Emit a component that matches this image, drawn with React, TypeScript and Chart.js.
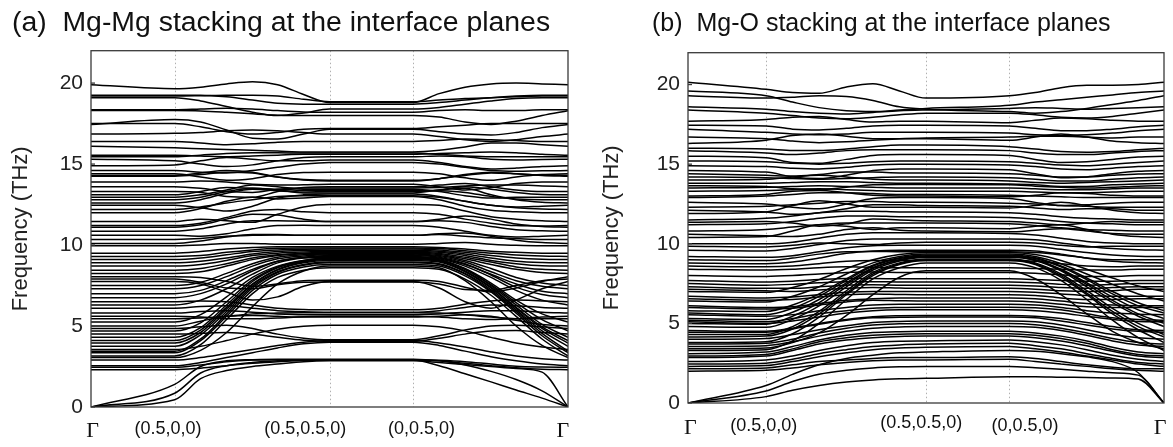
import React, { useEffect, useRef } from "react";
import { Chart, registerables } from "chart.js";

Chart.register(...registerables);

// ---------- k-path (x values, path length units) ----------
const kPathA = [0, 1.0, 1.31, 1.62, 1.93, 2.23, 2.54, 2.85, 3.85, 4.16, 4.47, 4.78, 5.08, 5.39, 5.7];
const kPathB = [0, 1.0, 1.34, 1.68, 2.03, 2.37, 2.71, 3.05, 4.12, 4.45, 4.78, 5.11, 5.44, 5.77, 6.1];
const kHighSymA = [0, 1.0, 2.85, 3.85, 5.7];
const kHighSymB = [0, 1.0, 3.05, 4.12, 6.1];
const kLabels = ["Γ", "(0.5,0,0)", "(0.5,0.5,0)", "(0,0.5,0)", "Γ"];
const kLabelPosA = [0.02, 0.92, 2.56, 3.95, 5.64];
const kLabelPosB = [0.03, 0.97, 2.99, 4.32, 6.05];
const yTickValues = [0, 5, 10, 15, 20];

// ---------- panel (a): Mg-Mg stacking, frequencies (THz) at kPathA ----------
const acousticA = [
  [0, 0.45, 1.75, 2.25, 2.5, 2.65, 2.8, 2.85, 2.85, 2.75, 2.62, 2.5, 2.38, 2.15, 0],
  [0, 0.85, 2.1, 2.55, 2.75, 2.85, 2.9, 2.9, 2.9, 2.55, 2.05, 1.55, 1.05, 0.55, 0],
  [0, 1.4, 2.5, 2.85, 2.92, 2.95, 2.95, 2.95, 2.95, 2.85, 2.6, 2.2, 1.7, 1.0, 0],
];
const lowA = [
  [2.3, 2.3, 2.4, 2.55, 2.7, 2.8, 2.87, 2.9, 2.9, 2.85, 2.7, 2.55, 2.42, 2.33, 2.3],
  [2.45, 2.45, 2.6, 2.8, 2.9, 2.92, 2.92, 2.92, 2.92, 2.88, 2.8, 2.65, 2.52, 2.47, 2.45],
  [2.55, 2.55, 2.75, 3.05, 3.35, 3.65, 3.9, 4.0, 4.0, 3.8, 3.45, 3.1, 2.85, 2.65, 2.55],
  [2.9, 2.9, 3.05, 3.3, 3.55, 3.8, 4.0, 4.1, 4.1, 3.95, 3.7, 3.4, 3.15, 2.98, 2.9],
  [4.5, 4.5, 4.55, 4.6, 4.5, 4.3, 4.12, 4.05, 4.05, 4.25, 4.5, 4.7, 4.72, 4.6, 4.5],
  [4.85, 4.85, 4.95, 5.05, 4.85, 4.5, 4.25, 4.15, 4.15, 4.4, 4.75, 5.0, 5.05, 4.95, 4.85],
  [3.55, 3.55, 3.75, 4.1, 4.5, 4.8, 4.98, 5.05, 5.05, 4.95, 4.7, 4.3, 3.95, 3.7, 3.55],
  [5.0, 5.0, 5.3, 5.6, 5.65, 5.6, 5.55, 5.55, 5.55, 5.6, 5.7, 5.6, 5.35, 5.1, 5.0],
  [5.45, 5.45, 5.5, 5.6, 5.75, 5.8, 5.82, 5.82, 5.82, 5.8, 5.7, 5.55, 5.45, 5.45, 5.45],
  [5.6, 5.6, 5.55, 5.45, 5.45, 5.5, 5.57, 5.6, 5.6, 5.55, 5.45, 5.4, 5.45, 5.55, 5.6],
  [5.8, 5.8, 5.9, 5.95, 5.85, 5.75, 5.7, 5.7, 5.7, 5.75, 5.85, 5.95, 5.95, 5.85, 5.8],
  [6.1, 6.1, 6.2, 6.25, 6.1, 5.95, 5.88, 5.85, 5.85, 5.95, 6.15, 6.3, 6.25, 6.15, 6.1],
  [6.5, 6.5, 6.55, 6.5, 6.3, 6.1, 6.02, 6.0, 6.0, 6.1, 6.35, 6.55, 6.6, 6.55, 6.5],
  [7.75, 7.75, 7.6, 7.1, 6.6, 6.8, 7.45, 7.75, 7.75, 7.35, 6.5, 6.1, 6.6, 7.3, 7.75],
  [7.9, 7.9, 7.7, 7.35, 7.3, 7.55, 7.7, 7.72, 7.72, 7.6, 7.25, 7.2, 7.5, 7.8, 7.9],
  [8.05, 8.05, 8.0, 7.75, 7.45, 7.6, 7.8, 7.82, 7.82, 7.75, 7.4, 7.1, 7.35, 7.75, 8.05],
];
const bundleA = [
  [3.05, 3.05, 3.5, 4.6, 6.2, 7.6, 8.4, 8.7, 8.7, 8.6, 7.8, 6.5, 5.0, 3.8, 3.05],
  [3.15, 3.15, 3.85, 5.4, 7.0, 8.0, 8.45, 8.6, 8.6, 8.5, 7.9, 6.9, 5.6, 4.2, 3.15],
  [3.35, 3.35, 4.1, 5.6, 7.2, 8.2, 8.65, 8.8, 8.8, 8.7, 8.1, 7.1, 5.8, 4.4, 3.35],
  [3.45, 3.45, 4.2, 5.75, 7.35, 8.3, 8.75, 8.9, 8.9, 8.8, 8.2, 7.15, 5.9, 4.55, 3.45],
  [3.75, 3.75, 4.45, 5.9, 7.45, 8.35, 8.8, 8.95, 8.95, 8.85, 8.25, 7.25, 6.0, 4.7, 3.75],
  [3.95, 3.95, 4.6, 6.05, 7.55, 8.45, 8.9, 9.05, 9.05, 8.95, 8.35, 7.35, 6.1, 4.85, 3.95],
  [4.1, 4.1, 4.75, 6.15, 7.6, 8.5, 8.95, 9.1, 9.1, 9.0, 8.4, 7.4, 6.15, 4.95, 4.1],
  [4.3, 4.3, 4.9, 6.3, 7.75, 8.6, 9.0, 9.15, 9.15, 9.05, 8.5, 7.5, 6.3, 5.1, 4.3],
  [4.7, 4.7, 5.2, 6.5, 7.85, 8.65, 9.05, 9.18, 9.18, 9.08, 8.5, 7.55, 6.45, 5.4, 4.7],
  [5.25, 5.25, 5.7, 6.8, 8.0, 8.7, 9.05, 9.2, 9.2, 9.1, 8.55, 7.65, 6.6, 5.75, 5.25],
  [6.3, 6.3, 6.6, 7.3, 8.2, 8.9, 9.2, 9.25, 9.25, 9.15, 8.7, 8.0, 7.2, 6.6, 6.3],
  [6.75, 6.75, 7.0, 7.6, 8.4, 9.0, 9.25, 9.35, 9.35, 9.25, 8.85, 8.15, 7.4, 6.95, 6.75],
  [7.0, 7.0, 7.2, 7.8, 8.5, 9.0, 9.22, 9.3, 9.3, 9.2, 8.8, 8.2, 7.6, 7.15, 7.0],
  [7.3, 7.3, 7.5, 8.05, 8.7, 9.15, 9.33, 9.4, 9.4, 9.3, 8.95, 8.35, 7.8, 7.45, 7.3],
  [7.5, 7.5, 7.7, 8.25, 8.85, 9.25, 9.4, 9.45, 9.45, 9.35, 9.05, 8.55, 8.0, 7.65, 7.5],
  [8.25, 8.25, 8.35, 8.7, 9.1, 9.35, 9.46, 9.5, 9.5, 9.42, 9.15, 8.8, 8.5, 8.3, 8.25],
  [8.45, 8.45, 8.55, 8.85, 9.2, 9.4, 9.5, 9.55, 9.55, 9.48, 9.25, 8.95, 8.65, 8.5, 8.45],
  [8.7, 8.7, 8.8, 9.05, 9.35, 9.5, 9.57, 9.6, 9.6, 9.55, 9.35, 9.05, 8.85, 8.72, 8.7],
  [8.9, 8.9, 9.0, 9.2, 9.45, 9.6, 9.66, 9.68, 9.68, 9.62, 9.45, 9.2, 9.0, 8.92, 8.9],
  [9.1, 9.1, 9.2, 9.4, 9.6, 9.7, 9.74, 9.75, 9.75, 9.7, 9.55, 9.35, 9.2, 9.12, 9.1],
  [9.3, 9.3, 9.35, 9.55, 9.7, 9.8, 9.82, 9.82, 9.82, 9.78, 9.65, 9.5, 9.38, 9.32, 9.3],
  [9.5, 9.5, 9.6, 9.75, 9.85, 9.9, 9.9, 9.9, 9.9, 9.85, 9.75, 9.62, 9.55, 9.5, 9.5],
  [9.95, 9.95, 10.0, 10.1, 10.1, 10.05, 10.05, 10.05, 10.05, 10.1, 10.15, 10.05, 9.98, 9.95, 9.95],
];
const midA = [
  [10.1, 10.1, 10.25, 10.5, 10.65, 10.65, 10.6, 10.6, 10.6, 10.7, 10.75, 10.55, 10.3, 10.15, 10.1],
  [10.35, 10.35, 10.4, 10.55, 10.6, 10.62, 10.6, 10.6, 10.6, 10.65, 10.55, 10.45, 10.4, 10.35, 10.35],
  [10.6, 10.6, 10.55, 10.7, 11.0, 11.2, 11.22, 11.2, 11.2, 11.1, 10.85, 10.6, 10.5, 10.55, 10.6],
  [10.85, 10.85, 11.0, 11.3, 11.5, 11.5, 11.47, 11.45, 11.45, 11.5, 11.4, 11.15, 10.95, 10.88, 10.85],
  [11.1, 11.1, 11.25, 11.6, 11.9, 11.85, 11.6, 11.45, 11.45, 11.6, 11.8, 11.6, 11.3, 11.15, 11.1],
  [11.2, 11.2, 11.35, 11.7, 12.1, 12.2, 12.05, 12.0, 12.0, 11.9, 11.6, 11.35, 11.2, 11.18, 11.2],
  [11.45, 11.45, 11.6, 11.5, 11.4, 11.9, 12.35, 12.5, 12.5, 12.45, 12.1, 11.75, 11.6, 11.5, 11.45],
  [12.0, 12.0, 12.25, 12.7, 12.95, 12.85, 12.9, 13.0, 13.0, 12.8, 12.4, 12.15, 12.05, 12.0, 12.0],
  [12.2, 12.2, 12.35, 12.6, 12.8, 13.0, 13.05, 13.05, 13.05, 12.95, 12.7, 12.45, 12.3, 12.22, 12.2],
  [12.45, 12.45, 12.3, 12.1, 12.4, 12.9, 13.1, 13.15, 13.15, 13.0, 12.7, 12.45, 12.35, 12.4, 12.45],
  [12.6, 12.6, 12.8, 13.2, 13.45, 13.35, 13.28, 13.3, 13.3, 13.4, 13.5, 13.1, 12.8, 12.65, 12.6],
  [12.8, 12.8, 12.95, 13.3, 13.5, 13.45, 13.38, 13.38, 13.38, 13.35, 13.25, 13.0, 12.85, 12.8, 12.8],
  [12.95, 12.95, 13.1, 13.4, 13.7, 13.6, 13.45, 13.45, 13.45, 13.3, 13.05, 12.9, 12.95, 12.95, 12.95],
  [13.1, 13.1, 13.3, 13.55, 13.5, 13.4, 13.22, 13.22, 13.22, 13.4, 13.6, 13.45, 13.25, 13.12, 13.1],
  [13.3, 13.3, 13.25, 13.0, 12.95, 13.3, 13.55, 13.6, 13.6, 13.7, 13.8, 13.6, 13.4, 13.3, 13.3],
  [13.6, 13.6, 13.5, 13.3, 13.25, 13.45, 13.52, 13.52, 13.52, 13.55, 13.65, 13.7, 13.7, 13.65, 13.6],
  [13.9, 13.9, 13.95, 13.9, 13.75, 13.7, 13.72, 13.75, 13.75, 13.6, 13.4, 13.55, 13.8, 13.9, 13.9],
  [14.25, 14.25, 14.35, 14.5, 14.45, 14.2, 14.05, 14.0, 14.0, 14.1, 14.35, 14.5, 14.4, 14.3, 14.25],
  [14.3, 14.3, 14.45, 14.6, 14.5, 14.2, 14.02, 13.95, 13.95, 14.1, 14.3, 14.45, 14.4, 14.32, 14.3],
  [14.4, 14.4, 14.2, 14.0, 14.1, 14.35, 14.48, 14.5, 14.5, 14.4, 14.15, 14.0, 14.2, 14.35, 14.4],
  [14.6, 14.6, 14.5, 14.45, 14.6, 14.8, 15.0, 15.1, 15.1, 15.0, 14.8, 14.6, 14.55, 14.58, 14.6],
  [14.9, 14.95, 15.2, 15.4, 15.3, 15.2, 15.2, 15.25, 15.25, 15.1, 14.85, 14.7, 14.75, 14.85, 14.9],
];
const highA = [
  [15.3, 15.2, 15.0, 14.85, 14.95, 15.2, 15.4, 15.45, 15.45, 15.5, 15.45, 15.3, 15.25, 15.28, 15.3],
  [15.45, 15.45, 15.55, 15.65, 15.7, 15.7, 15.68, 15.68, 15.68, 15.6, 15.5, 15.45, 15.45, 15.45, 15.45],
  [15.55, 15.55, 15.5, 15.45, 15.5, 15.55, 15.6, 15.6, 15.6, 15.65, 15.7, 15.75, 15.7, 15.6, 15.55],
  [16.1, 16.0, 15.95, 15.9, 15.85, 15.8, 15.75, 15.75, 15.75, 15.85, 16.05, 16.3, 16.3, 16.2, 16.1],
  [16.4, 16.4, 16.3, 16.2, 16.25, 16.35, 16.4, 16.4, 16.4, 16.45, 16.55, 16.5, 16.45, 16.4, 16.4],
  [16.85, 16.9, 16.95, 17.05, 17.1, 17.05, 16.95, 16.85, 16.85, 16.7, 16.5, 16.4, 16.5, 16.7, 16.85],
  [17.45, 17.75, 17.6, 17.1, 16.6, 16.55, 16.85, 17.15, 17.15, 17.0, 16.85, 16.8, 16.95, 17.25, 17.45],
  [17.5, 17.5, 17.3, 17.0, 16.85, 16.95, 17.15, 17.2, 17.2, 17.3, 17.4, 17.5, 17.5, 17.5, 17.5],
  [18.3, 18.3, 18.28, 18.2, 18.1, 18.02, 18.0, 18.0, 18.0, 17.9, 17.6, 17.45, 17.65, 18.0, 18.3],
  [18.35, 18.35, 18.4, 18.45, 18.4, 18.3, 18.22, 18.2, 18.2, 18.3, 18.35, 18.3, 18.3, 18.35, 18.35],
  [19.1, 19.1, 18.9, 18.55, 18.2, 18.0, 18.15, 18.4, 18.4, 18.5, 18.7, 18.9, 19.05, 19.1, 19.1],
  [19.2, 19.2, 19.22, 19.25, 19.25, 19.2, 19.0, 18.85, 18.85, 18.95, 19.05, 19.1, 19.15, 19.2, 19.2],
  [19.25, 19.25, 19.25, 19.15, 18.95, 18.75, 18.7, 18.7, 18.7, 18.8, 18.95, 19.1, 19.2, 19.25, 19.25],
  [19.9, 19.65, 19.75, 19.95, 20.08, 19.9, 19.3, 18.8, 18.8, 19.35, 19.75, 19.95, 20.0, 19.95, 19.9],
];

// ---------- panel (b): Mg-O stacking, frequencies (THz) at kPathB ----------
const acousticB = [
  [0, 0.4, 0.8, 1.1, 1.32, 1.45, 1.52, 1.55, 1.65, 1.65, 1.62, 1.6, 1.57, 1.5, 0],
  [0, 0.75, 1.35, 1.8, 2.05, 2.2, 2.27, 2.3, 2.3, 2.22, 2.12, 2.0, 1.9, 1.75, 0],
  [0, 1.1, 1.8, 2.4, 2.8, 3.0, 3.15, 3.2, 3.3, 3.25, 3.1, 2.9, 2.6, 1.9, 0],
];
const lowB = [
  [2.0, 2.05, 2.2, 2.4, 2.55, 2.65, 2.7, 2.7, 2.75, 2.6, 2.45, 2.3, 2.15, 2.05, 2.0],
  [2.15, 2.2, 2.4, 2.6, 2.7, 2.8, 2.85, 2.85, 2.9, 2.8, 2.6, 2.4, 2.25, 2.15, 2.15],
  [2.3, 2.35, 2.6, 2.9, 3.15, 3.35, 3.45, 3.5, 3.55, 3.4, 3.2, 2.95, 2.7, 2.45, 2.3],
  [2.45, 2.5, 2.75, 3.1, 3.35, 3.55, 3.65, 3.7, 3.75, 3.6, 3.4, 3.1, 2.8, 2.55, 2.45],
  [2.6, 2.7, 2.95, 3.3, 3.6, 3.8, 3.88, 3.9, 3.95, 3.85, 3.65, 3.35, 3.0, 2.75, 2.6],
  [2.85, 2.95, 3.3, 3.7, 3.95, 4.1, 4.18, 4.2, 4.2, 4.1, 3.9, 3.6, 3.25, 2.95, 2.85],
  [2.95, 3.05, 3.4, 3.85, 4.1, 4.25, 4.32, 4.35, 4.35, 4.25, 4.05, 3.75, 3.35, 3.05, 2.95],
  [3.1, 3.2, 3.55, 3.95, 4.25, 4.42, 4.48, 4.5, 4.5, 4.4, 4.2, 3.9, 3.5, 3.2, 3.1],
  [3.55, 3.6, 3.85, 4.2, 4.5, 4.7, 4.78, 4.8, 4.8, 4.75, 4.55, 4.25, 3.9, 3.65, 3.55],
  [3.7, 3.75, 4.0, 4.4, 4.7, 4.9, 4.97, 5.0, 5.0, 4.92, 4.7, 4.4, 4.05, 3.8, 3.7],
  [4.0, 4.05, 4.3, 4.6, 4.85, 5.05, 5.12, 5.15, 5.15, 5.1, 4.9, 4.6, 4.3, 4.1, 4.0],
  [4.45, 4.45, 4.65, 4.95, 5.2, 5.35, 5.38, 5.4, 5.4, 5.35, 5.15, 4.9, 4.65, 4.5, 4.45],
  [4.55, 4.5, 4.7, 5.0, 5.25, 5.42, 5.48, 5.5, 5.5, 5.45, 5.3, 5.05, 4.8, 4.6, 4.55],
  [5.1, 5.0, 5.15, 5.4, 5.65, 5.8, 5.85, 5.85, 5.85, 5.8, 5.65, 5.45, 5.25, 5.12, 5.1],
  [5.2, 5.1, 5.3, 5.6, 5.8, 5.95, 6.0, 6.02, 6.02, 5.98, 5.85, 5.6, 5.35, 5.25, 5.2],
  [5.55, 5.45, 5.55, 5.8, 6.0, 6.15, 6.2, 6.2, 6.2, 6.15, 6.0, 5.8, 5.65, 5.58, 5.55],
  [6.0, 5.9, 5.95, 6.15, 6.35, 6.45, 6.42, 6.4, 6.4, 6.35, 6.2, 6.05, 6.0, 6.0, 6.0],
  [6.1, 6.0, 6.05, 6.25, 6.45, 6.55, 6.6, 6.6, 6.6, 6.55, 6.4, 6.25, 6.15, 6.1, 6.1],
  [6.55, 6.45, 6.5, 6.65, 6.8, 6.85, 6.82, 6.8, 6.8, 6.75, 6.6, 6.5, 6.5, 6.55, 6.55],
  [6.7, 6.6, 6.65, 6.8, 6.95, 7.0, 7.0, 7.0, 7.0, 6.95, 6.85, 6.75, 6.7, 6.7, 6.7],
  [7.15, 7.05, 7.0, 7.1, 7.2, 7.25, 7.22, 7.2, 7.2, 7.15, 7.05, 7.0, 7.05, 7.15, 7.15],
  [7.3, 7.2, 7.2, 7.3, 7.4, 7.42, 7.4, 7.4, 7.4, 7.35, 7.25, 7.2, 7.25, 7.3, 7.3],
  [7.5, 7.4, 7.45, 7.55, 7.62, 7.62, 7.6, 7.6, 7.6, 7.55, 7.45, 7.4, 7.45, 7.5, 7.5],
  [7.7, 7.6, 7.65, 7.75, 7.82, 7.82, 7.8, 7.8, 7.8, 7.75, 7.7, 7.65, 7.65, 7.7, 7.7],
  [8.0, 7.95, 8.0, 8.1, 8.2, 8.22, 8.2, 8.2, 8.2, 8.15, 8.05, 7.95, 7.95, 8.0, 8.0],
  [8.4, 8.35, 8.4, 8.5, 8.55, 8.52, 8.5, 8.5, 8.5, 8.45, 8.4, 8.35, 8.35, 8.4, 8.4],
  [8.6, 8.55, 8.6, 8.75, 8.9, 8.95, 8.95, 8.95, 8.95, 8.9, 8.75, 8.6, 8.55, 8.6, 8.6],
];
const bundleB = [
  [3.3, 3.35, 3.9, 5.0, 6.5, 7.8, 8.5, 8.8, 8.8, 8.5, 7.7, 6.5, 5.2, 4.1, 3.3],
  [3.4, 3.45, 3.8, 4.4, 5.5, 6.8, 7.9, 8.3, 8.3, 7.8, 6.8, 5.6, 4.5, 3.8, 3.4],
  [3.8, 3.85, 4.35, 5.4, 6.8, 8.0, 8.7, 8.95, 8.95, 8.7, 7.9, 6.8, 5.6, 4.6, 3.8],
  [4.15, 4.2, 4.65, 5.6, 6.9, 8.1, 8.75, 9.0, 9.0, 8.75, 8.0, 6.9, 5.75, 4.8, 4.15],
  [4.3, 4.3, 4.8, 5.75, 7.05, 8.2, 8.8, 9.05, 9.05, 8.8, 8.1, 7.05, 5.95, 5.0, 4.3],
  [4.8, 4.75, 5.25, 6.1, 7.3, 8.35, 8.92, 9.15, 9.15, 8.95, 8.3, 7.3, 6.3, 5.45, 4.8],
  [5.0, 4.95, 5.45, 6.3, 7.45, 8.45, 8.98, 9.18, 9.18, 8.98, 8.35, 7.45, 6.45, 5.6, 5.0],
  [5.3, 5.25, 5.7, 6.5, 7.55, 8.5, 9.0, 9.2, 9.2, 9.0, 8.4, 7.55, 6.65, 5.85, 5.3],
  [5.65, 5.55, 5.95, 6.7, 7.7, 8.6, 9.08, 9.25, 9.25, 9.08, 8.55, 7.75, 6.85, 6.1, 5.65],
  [5.8, 5.75, 6.15, 6.85, 7.8, 8.65, 9.12, 9.3, 9.3, 9.12, 8.6, 7.85, 7.0, 6.3, 5.8],
  [6.4, 6.35, 6.7, 7.3, 8.1, 8.8, 9.2, 9.35, 9.35, 9.2, 8.75, 8.1, 7.45, 6.85, 6.4],
  [7.0, 6.95, 7.25, 7.75, 8.45, 9.0, 9.32, 9.45, 9.45, 9.32, 8.95, 8.4, 7.85, 7.35, 7.0],
];
const midB = [
  [8.8, 8.75, 8.85, 9.1, 9.4, 9.55, 9.6, 9.6, 9.6, 9.55, 9.35, 9.1, 8.9, 8.82, 8.8],
  [9.0, 8.95, 9.1, 9.35, 9.5, 9.52, 9.5, 9.5, 9.5, 9.45, 9.3, 9.1, 9.0, 9.0, 9.0],
  [9.2, 9.15, 9.25, 9.5, 9.75, 9.88, 9.9, 9.9, 9.9, 9.85, 9.65, 9.45, 9.3, 9.22, 9.2],
  [9.6, 9.55, 9.7, 9.95, 10.2, 10.3, 10.3, 10.3, 10.3, 10.25, 10.05, 9.85, 9.7, 9.62, 9.6],
  [9.85, 9.8, 9.9, 10.05, 10.0, 9.95, 10.05, 10.1, 10.1, 10.05, 9.9, 9.8, 9.85, 9.85, 9.85],
  [10.0, 10.0, 10.1, 10.35, 10.6, 10.7, 10.7, 10.7, 10.65, 10.55, 10.35, 10.15, 10.05, 10.0, 10.0],
  [10.4, 10.45, 10.8, 11.2, 11.1, 10.9, 11.0, 11.0, 10.95, 11.1, 11.2, 10.9, 10.6, 10.45, 10.4],
  [10.6, 10.5, 10.45, 10.6, 10.9, 11.0, 10.85, 10.8, 10.75, 10.85, 10.95, 10.8, 10.65, 10.6, 10.6],
  [10.8, 10.9, 11.05, 11.2, 11.3, 11.3, 11.3, 11.3, 11.25, 11.15, 11.0, 10.9, 10.85, 10.8, 10.8],
  [11.2, 11.25, 11.4, 11.6, 11.75, 11.75, 11.7, 11.7, 11.65, 11.55, 11.4, 11.3, 11.25, 11.2, 11.2],
  [11.35, 11.4, 11.3, 11.1, 11.25, 11.55, 11.5, 11.45, 11.4, 11.3, 11.2, 11.3, 11.4, 11.35, 11.35],
  [11.5, 11.6, 11.75, 11.95, 12.05, 12.05, 12.0, 12.0, 11.95, 11.85, 11.7, 11.6, 11.55, 11.5, 11.5],
  [11.9, 12.0, 12.4, 12.7, 12.5, 12.3, 12.3, 12.3, 12.25, 12.4, 12.6, 12.4, 12.1, 11.95, 11.9],
  [12.1, 12.0, 11.85, 11.95, 12.2, 12.45, 12.45, 12.4, 12.35, 12.25, 12.15, 12.2, 12.2, 12.1, 12.1],
  [12.3, 12.35, 12.45, 12.55, 12.65, 12.65, 12.6, 12.6, 12.55, 12.5, 12.4, 12.35, 12.3, 12.3, 12.3],
  [12.6, 12.5, 12.3, 12.2, 12.5, 12.85, 12.9, 12.9, 12.85, 12.6, 12.4, 12.45, 12.55, 12.6, 12.6],
  [12.9, 13.0, 13.1, 13.2, 13.2, 13.15, 13.1, 13.1, 13.05, 13.0, 12.95, 12.9, 12.9, 12.9, 12.9],
  [13.0, 13.1, 13.3, 13.35, 13.2, 13.05, 13.0, 13.0, 12.95, 13.05, 13.2, 13.15, 13.05, 13.0, 13.0],
  [13.3, 13.35, 13.4, 13.45, 13.4, 13.35, 13.3, 13.3, 13.3, 13.25, 13.2, 13.2, 13.25, 13.3, 13.3],
  [13.5, 13.55, 13.6, 13.65, 13.6, 13.55, 13.5, 13.5, 13.5, 13.45, 13.4, 13.4, 13.45, 13.5, 13.5],
  [13.65, 13.6, 13.45, 13.4, 13.55, 13.7, 13.72, 13.72, 13.7, 13.62, 13.55, 13.5, 13.55, 13.62, 13.65],
  [13.8, 13.8, 13.85, 13.9, 13.9, 13.85, 13.8, 13.8, 13.75, 13.7, 13.6, 13.6, 13.7, 13.75, 13.8],
  [14.0, 14.05, 14.2, 14.3, 14.2, 14.05, 14.0, 14.0, 13.95, 13.85, 13.8, 13.85, 13.9, 13.95, 14.0],
  [14.2, 14.15, 14.1, 14.05, 14.1, 14.15, 14.2, 14.2, 14.15, 14.05, 13.95, 13.95, 14.05, 14.15, 14.2],
  [14.4, 14.3, 14.25, 14.35, 14.5, 14.5, 14.45, 14.45, 14.4, 14.3, 14.2, 14.2, 14.3, 14.38, 14.4],
  [14.6, 14.5, 14.2, 14.1, 14.3, 14.6, 14.7, 14.7, 14.65, 14.4, 14.15, 14.2, 14.4, 14.55, 14.6],
  [14.9, 14.85, 14.75, 14.7, 14.8, 14.95, 15.0, 15.0, 14.95, 14.85, 14.7, 14.65, 14.75, 14.85, 14.9],
];
const highB = [
  [15.2, 15.15, 15.05, 15.0, 15.05, 15.15, 15.2, 15.2, 15.15, 15.05, 14.95, 14.9, 15.0, 15.1, 15.2],
  [15.5, 15.4, 15.1, 15.05, 15.3, 15.55, 15.6, 15.6, 15.55, 15.3, 15.1, 15.15, 15.3, 15.45, 15.5],
  [15.85, 15.7, 15.6, 15.7, 15.85, 15.9, 15.9, 15.9, 15.85, 15.7, 15.6, 15.6, 15.7, 15.8, 15.85],
  [16.0, 15.95, 15.85, 15.85, 15.95, 16.1, 16.2, 16.2, 16.1, 15.95, 15.8, 15.75, 15.8, 15.9, 16.0],
  [16.3, 16.5, 16.8, 16.9, 16.75, 16.6, 16.6, 16.6, 16.5, 16.7, 16.9, 16.7, 16.45, 16.35, 16.3],
  [16.7, 16.6, 16.45, 16.35, 16.4, 16.5, 16.6, 16.65, 16.7, 16.75, 16.75, 16.7, 16.65, 16.7, 16.7],
  [17.2, 17.0, 16.9, 16.85, 16.9, 17.0, 17.0, 17.0, 16.95, 16.85, 16.8, 16.85, 16.95, 17.1, 17.2],
  [17.45, 17.4, 17.2, 17.15, 17.25, 17.4, 17.45, 17.45, 17.4, 17.25, 17.1, 17.1, 17.2, 17.35, 17.45],
  [17.7, 17.8, 17.95, 18.0, 17.8, 17.65, 17.7, 17.7, 17.6, 17.75, 17.9, 17.85, 17.75, 17.7, 17.7],
  [18.4, 18.2, 18.05, 17.9, 17.85, 17.95, 18.1, 18.2, 18.2, 18.1, 17.95, 17.9, 18.0, 18.2, 18.4],
  [18.6, 18.45, 18.3, 18.2, 18.15, 18.25, 18.35, 18.4, 18.5, 18.55, 18.5, 18.45, 18.5, 18.55, 18.6],
  [19.3, 19.15, 19.2, 19.3, 19.25, 19.0, 18.6, 18.45, 18.3, 18.2, 18.3, 18.5, 18.75, 19.0, 19.3],
  [19.6, 19.3, 18.9, 18.55, 18.35, 18.3, 18.4, 18.5, 18.7, 18.9, 19.05, 19.2, 19.35, 19.5, 19.6],
  [20.15, 19.7, 19.5, 19.45, 19.85, 20.05, 19.6, 19.15, 19.3, 19.5, 19.8, 19.95, 19.95, 20.0, 20.15],
];

const SANS = '"Liberation Sans", Arial, sans-serif';
const SERIF = '"Liberation Serif", "Times New Roman", serif';

const panelDecor = {
  id: "panelDecor",
  beforeDatasetsDraw(chart: any, _args: any, opts: any) {
    const { ctx, chartArea } = chart;
    const xs = chart.scales.x;
    ctx.save();
    ctx.strokeStyle = "#b0b0b0";
    ctx.lineWidth = 1;
    ctx.setLineDash([1.5, 2.5]);
    opts.gridAt.forEach((v: number) => {
      const px = Math.round(xs.getPixelForValue(v)) + 0.5;
      ctx.beginPath();
      ctx.moveTo(px, chartArea.top);
      ctx.lineTo(px, chartArea.bottom);
      ctx.stroke();
    });
    ctx.restore();
  },
  afterDatasetsDraw(chart: any) {
    const { ctx, chartArea } = chart;
    const ys = chart.scales.y;
    ctx.save();
    ctx.strokeStyle = "#3a3a3a";
    ctx.lineWidth = 1.3;
    ctx.strokeRect(chartArea.left, chartArea.top, chartArea.right - chartArea.left, chartArea.bottom - chartArea.top);
    yTickValues.forEach((v) => {
      const py = ys.getPixelForValue(v);
      ctx.beginPath();
      ctx.moveTo(chartArea.left, py);
      ctx.lineTo(chartArea.left + 4, py);
      ctx.stroke();
    });
    ctx.restore();
  },
  afterDraw(chart: any, _args: any, opts: any) {
    const { ctx } = chart;
    const xs = chart.scales.x;
    ctx.save();
    ctx.fillStyle = "#111";
    ctx.textAlign = "left";
    ctx.textBaseline = "alphabetic";
    ctx.font = `${opts.titleSize}px ${SANS}`;
    ctx.fillText(opts.title, opts.titleX, opts.titleY);
    ctx.textAlign = "center";
    opts.labels.forEach((lab: string, i: number) => {
      const px = xs.getPixelForValue(opts.labelPos[i]);
      if (lab === "Γ") {
        ctx.font = `22px ${SERIF}`;
        ctx.fillText(lab, px, opts.labelY + 3);
      } else {
        ctx.font = `18px ${SANS}`;
        ctx.fillText(lab, px, opts.labelY + (opts.labelDy[i] || 0));
      }
    });
    ctx.restore();
  },
};

function makeConfig(p: any) {
  const datasets = p.bands.map((band: number[]) => ({
    data: p.kPath.map((x: number, i: number) => ({ x, y: band[i] })),
    borderColor: "#000",
    borderWidth: 1.5,
    pointRadius: 0,
    fill: false,
    cubicInterpolationMode: "monotone",
  }));
  return {
    type: "line",
    data: { datasets },
    options: {
      animation: false,
      responsive: false,
      events: [],
      layout: { padding: p.padding },
      scales: {
        x: { type: "linear", min: 0, max: p.kHighSym[p.kHighSym.length - 1], display: false },
        y: {
          min: 0,
          max: 22,
          afterFit: (s: any) => {
            s.width = p.yAxisWidth;
          },
          ticks: {
            stepSize: 5,
            includeBounds: false,
            padding: 8,
            color: "#222",
            font: { family: SANS, size: 21 },
          },
          grid: { display: false, drawTicks: false },
          border: { display: false },
          title: {
            display: true,
            text: "Frequency (THz)",
            color: "#222",
            font: { family: SANS, size: 22 },
            padding: 0,
          },
        },
      },
      plugins: {
        legend: { display: false },
        tooltip: { enabled: false },
        panelDecor: {
          gridAt: p.kHighSym.slice(1, p.kHighSym.length - 1),
          title: p.title,
          titleX: p.titleX,
          titleY: p.titleY,
          titleSize: p.titleSize,
          labels: kLabels,
          labelPos: p.labelPos,
          labelY: p.labelY,
          labelDy: p.labelDy,
        },
      },
    },
    plugins: [panelDecor],
  };
}

export default function App() {
  const refA = useRef<HTMLCanvasElement>(null);
  const refB = useRef<HTMLCanvasElement>(null);
  useEffect(() => {
    const a = new Chart(
      refA.current as HTMLCanvasElement,
      makeConfig({
        bands: [...acousticA, ...lowA, ...bundleA, ...midA, ...highA],
        kPath: kPathA,
        kHighSym: kHighSymA,
        labelPos: kLabelPosA,
        labelY: 434,
        labelDy: [0, 0, 0, 0, 0],
        padding: { left: 8, right: 22, top: 50.7, bottom: 40 },
        yAxisWidth: 83,
        title: "(a)  Mg-Mg stacking at the interface planes",
        titleX: 12,
        titleY: 31,
        titleSize: 28.4,
      }) as any
    );
    const b = new Chart(
      refB.current as HTMLCanvasElement,
      makeConfig({
        bands: [...acousticB, ...lowB, ...bundleB, ...midB, ...highB],
        kPath: kPathB,
        kHighSym: kHighSymB,
        labelPos: kLabelPosB,
        labelY: 431,
        labelDy: [0, 0, -3, 0, 0],
        padding: { left: 9, right: 9, top: 52.7, bottom: 44 },
        yAxisWidth: 89,
        title: "(b)  Mg-O stacking at the interface planes",
        titleX: 62,
        titleY: 31,
        titleSize: 25,
      }) as any
    );
    return () => {
      a.destroy();
      b.destroy();
    };
  }, []);
  return (
    <div style={{ position: "absolute", left: 0, top: 0, width: 1173, height: 447, background: "#fff" }}>
      <canvas ref={refA} width={590} height={447} style={{ position: "absolute", left: 0, top: 0 }} />
      <canvas ref={refB} width={583} height={447} style={{ position: "absolute", left: 590, top: 0 }} />
    </div>
  );
}
